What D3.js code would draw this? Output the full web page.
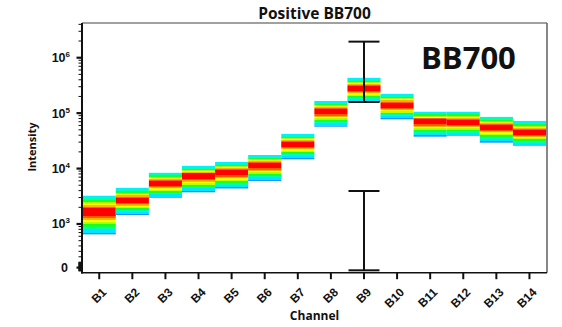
<!DOCTYPE html>
<html>
<head>
<meta charset="utf-8">
<script src="https://cdn.jsdelivr.net/npm/d3@7"></script>
<style>
  html, body { margin: 0; padding: 0; background: #fff; }
  svg { display: block; }
  .lbl { font-family: "Open Sans", "DejaVu Sans", sans-serif; font-weight: 700; fill: #111; }
  .tick { font-family: "Liberation Sans", Arial, sans-serif; font-weight: 700; fill: #111; }
</style>
</head>
<body>
<svg id="chart" width="562" height="327"></svg>
<script>
// Channels and the spread of intensities measured in each one
const channels = ["B1","B2","B3","B4","B5","B6","B7","B8","B9","B10","B11","B12","B13","B14"];
const lowEdge  = [650, 1450, 2980, 3730, 4370, 5970, 14700, 56900, 157000, 77400, 37600, 39200, 29300, 25900];
const peakVal  = [1650, 2650, 5500, 7500, 8500, 11400, 27800, 106000, 281000, 140000, 70200, 67800, 56900, 45200];
const highEdge = [3330, 4590, 8570, 11300, 13200, 17600, 42100, 167000, 443000, 228000, 109000, 109000, 86300, 73100];

// Error bars drawn on the peak channel
const errorChannel = "B9";
const errorLow  = [159000, -50];
const errorHigh = [1950000, 3940];

// Axis ticks
const majorTicks  = [0, 1e3, 1e4, 1e5, 1e6];
const majorLabels = [["0", ""], ["10", "3"], ["10", "4"], ["10", "5"], ["10", "6"]];
const minorMults  = [2, 3, 4, 5, 6, 7, 8, 9];
const nearZeroTicks = [-60, -50, -40, -30, -20, -10, 10, 20, 30, 40, 50, 60, 70, 80, 90, 100, 200, 300, 400];
const yMin = -94, yMax = 4.23e6;

const svg = d3.select("#chart");
const plotL = 82, plotR = 547, plotT = 23, plotB = 272.7;

// Hybrid scale: logarithmic above the switch point, linear below it (so 0 and negatives fit)
const SWITCH = 444;
function tf(v) {
  return v >= SWITCH ? Math.log10(v) : Math.log10(SWITCH) + (v - SWITCH) / (SWITCH * Math.LN10);
}
const yT = d3.scaleLinear().domain([tf(yMin), tf(yMax)]).range([plotB, plotT]);
const y = v => yT(tf(v));

const x = d3.scaleBand().domain(channels).range([82.7, 546]).padding(0);

// Colour bands: edge of the upper half down to the peak, then peak down to the lower edge
const upperBands = [
  ["#b4ffff", 0.05], ["#00f0ff", 0.17], ["#00ffb4", 0.30], ["#18ff30", 0.42],
  ["#b4ff00", 0.52], ["#ffff00", 0.61], ["#ffb000", 0.70], ["#ff5a00", 0.79], ["#ff0000", 1.0]
];
const lowerBands = [
  ["#ff0000", 0.18], ["#ff5a00", 0.27], ["#ffb000", 0.36], ["#ffff00", 0.45],
  ["#b4ff00", 0.54], ["#18ff30", 0.66], ["#00ffb4", 0.77], ["#00e4ff", 0.92], ["#1496ff", 1.0]
];

const defs = svg.append("defs");
channels.forEach((c, i) => {
  const yHi = y(highEdge[i]), yPk = y(peakVal[i]), yLo = y(lowEdge[i]);
  const H = yLo - yHi;
  const p = (yPk - yHi) / H;
  const g = defs.append("linearGradient")
    .attr("id", "grad" + i).attr("x1", 0).attr("y1", 0).attr("x2", 0).attr("y2", 1);
  let prev = 0;
  upperBands.forEach(([col, f]) => {
    g.append("stop").attr("offset", prev).attr("stop-color", col);
    g.append("stop").attr("offset", f * p).attr("stop-color", col);
    prev = f * p;
  });
  lowerBands.forEach(([col, f]) => {
    g.append("stop").attr("offset", prev).attr("stop-color", col);
    const o = p + f * (1 - p);
    g.append("stop").attr("offset", o).attr("stop-color", col);
    prev = o;
  });
});

// Intensity columns
svg.append("g").selectAll("rect")
  .data(channels)
  .join("rect")
  .attr("x", d => x(d))
  .attr("width", x.bandwidth())
  .attr("y", (d, i) => y(highEdge[i]))
  .attr("height", (d, i) => y(lowEdge[i]) - y(highEdge[i]))
  .attr("fill", (d, i) => `url(#grad${i})`);

// Frame: grey top and right edges
svg.append("line").attr("x1", plotL).attr("x2", plotR).attr("y1", plotT).attr("y2", plotT)
  .attr("stroke", "#808080").attr("stroke-width", 1.4);
svg.append("line").attr("x1", plotR).attr("x2", plotR).attr("y1", plotT).attr("y2", plotB)
  .attr("stroke", "#555").attr("stroke-width", 1.4);

// Error bars
const ex = x(errorChannel) + x.bandwidth() / 2;
const capHalf = 15.5;
const eg = svg.append("g").attr("stroke", "#111").attr("stroke-width", 2);
errorLow.forEach((lo, k) => {
  const hi = errorHigh[k];
  eg.append("line").attr("x1", ex).attr("x2", ex).attr("y1", y(hi)).attr("y2", y(lo));
  eg.append("line").attr("x1", ex - capHalf).attr("x2", ex + capHalf).attr("y1", y(hi)).attr("y2", y(hi));
  eg.append("line").attr("x1", ex - capHalf).attr("x2", ex + capHalf).attr("y1", y(lo)).attr("y2", y(lo));
});

// Y axis
const ya = svg.append("g");
ya.append("line").attr("x1", plotL).attr("x2", plotL).attr("y1", plotT).attr("y2", plotB + 0.7)
  .attr("stroke", "#111").attr("stroke-width", 2);
const minorVals = [];
[2, 3, 4, 5, 6].forEach(k => minorMults.forEach(m => {
  const v = m * Math.pow(10, k);
  if (v <= yMax && v > 400) minorVals.push(v);
}));
nearZeroTicks.forEach(v => minorVals.push(v));
ya.selectAll("line.minor").data(minorVals).join("line").attr("class", "minor")
  .attr("x1", plotL - 3.5).attr("x2", plotL).attr("y1", d => y(d)).attr("y2", d => y(d))
  .attr("stroke", "#111").attr("stroke-width", d => Math.abs(d) < 100 ? 1.3 : 1);
ya.selectAll("line.major").data(majorTicks).join("line").attr("class", "major")
  .attr("x1", plotL - 5.5).attr("x2", plotL).attr("y1", d => y(d)).attr("y2", d => y(d))
  .attr("stroke", "#111").attr("stroke-width", 2.2);
const yl = ya.selectAll("text").data(majorTicks).join("text").attr("class", "tick")
  .attr("x", (d, i) => i === 0 ? 68 : 70).attr("y", d => y(d) + 4.5)
  .attr("text-anchor", "end").style("font-size", "12.5px");
yl.append("tspan").text((d, i) => majorLabels[i][0]);
yl.append("tspan").attr("dy", -5).style("font-size", "8px").text((d, i) => majorLabels[i][1]);

// X axis
const xa = svg.append("g");
xa.append("line").attr("x1", plotL - 1).attr("x2", plotR).attr("y1", plotB).attr("y2", plotB)
  .attr("stroke", "#111").attr("stroke-width", 1.6);
xa.selectAll("line.xt").data(channels).join("line").attr("class", "xt")
  .attr("x1", d => x(d) + x.bandwidth() / 2).attr("x2", d => x(d) + x.bandwidth() / 2)
  .attr("y1", plotB).attr("y2", plotB + 6.5)
  .attr("stroke", "#111").attr("stroke-width", 2);
xa.selectAll("text").data(channels).join("text").attr("class", "tick")
  .attr("transform", d => `translate(${x(d) + x.bandwidth() / 2 + 8},293) rotate(-45)`)
  .attr("text-anchor", "end").style("font-size", "12px").text(d => d);

// Titles
svg.append("text").attr("class", "lbl").attr("x", (plotL + plotR) / 2).attr("y", 19)
  .attr("text-anchor", "middle").style("font-size", "15.5px").text("Positive BB700");
svg.append("text").attr("class", "lbl").attr("x", 421).attr("y", 69.3)
  .style("font-size", "31px").text("BB700");
svg.append("text").attr("class", "lbl").attr("x", (plotL + plotR) / 2).attr("y", 319.5)
  .attr("text-anchor", "middle").style("font-size", "12px").text("Channel");
svg.append("text").attr("class", "lbl")
  .attr("transform", "translate(36,147) rotate(-90)")
  .attr("text-anchor", "middle").style("font-size", "11px").text("Intensity");
</script>
</body>
</html>
